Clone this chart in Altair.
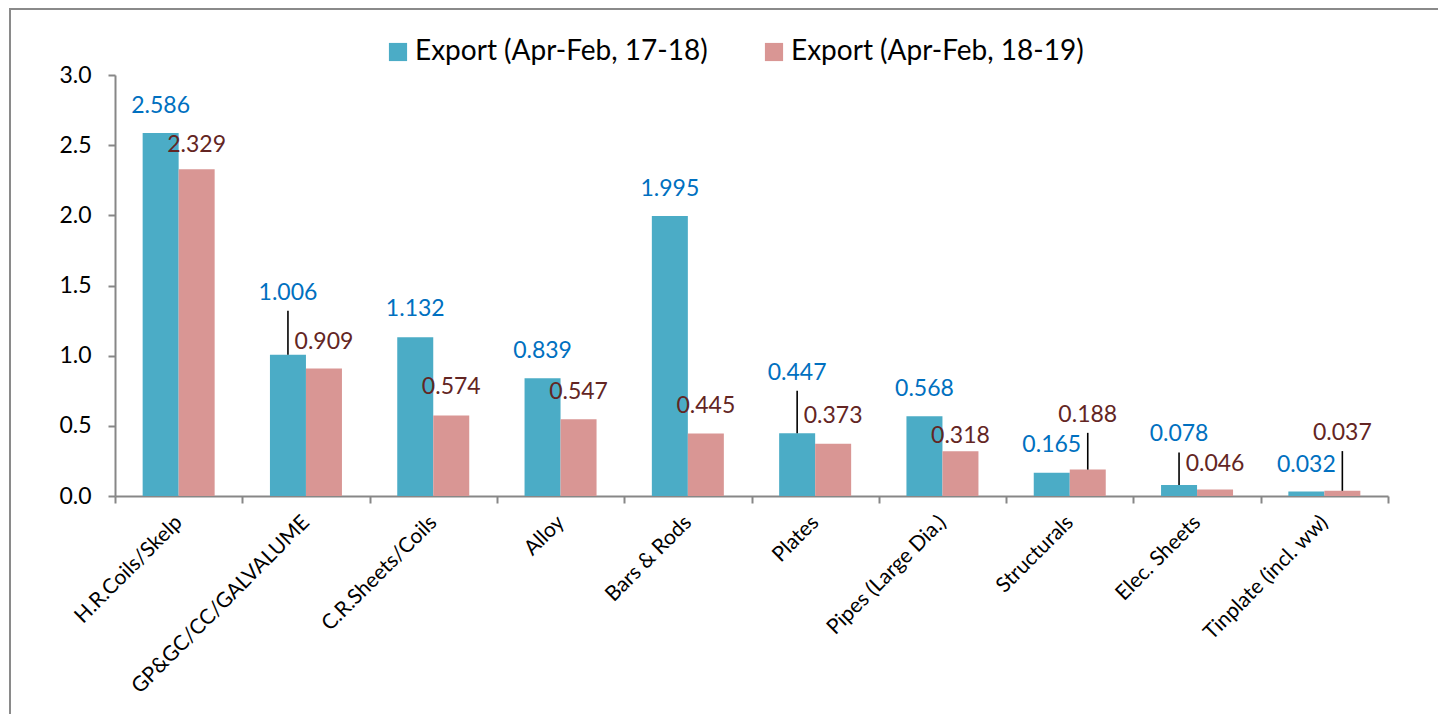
import altair as alt
import pandas as pd

categories = ["H.R.Coils/Skelp", "GP&GC/CC/GALVALUME", "C.R.Sheets/Coils", "Alloy",
              "Bars & Rods", "Plates", "Pipes (Large Dia.)", "Structurals",
              "Elec. Sheets", "Tinplate (incl. ww)"]
series_names = ["Export (Apr-Feb, 17-18)", "Export (Apr-Feb, 18-19)"]
export_1718 = [2.586, 1.006, 1.132, 0.839, 1.995, 0.447, 0.568, 0.165, 0.078, 0.032]
export_1819 = [2.329, 0.909, 0.574, 0.547, 0.445, 0.373, 0.318, 0.188, 0.046, 0.037]
# where each data label sits (value units), as placed in the original
label_at_1718 = [2.78, 1.45, 1.33, 1.03, 2.19, 0.88, 0.76, 0.36, 0.44, 0.22]
label_at_1819 = [2.50, 1.10, 0.78, 0.74, 0.64, 0.57, 0.43, 0.58, 0.23, 0.45]
leader_1718 = [False, True, False, False, False, True, False, False, True, False]
leader_1819 = [False, False, False, False, False, False, False, True, False, True]
y_ticks = [0.0, 0.5, 1.0, 1.5, 2.0, 2.5, 3.0]

rows = []
for i, c in enumerate(categories):
    rows.append(dict(cat=c, series=series_names[0], value=export_1718[i],
                     lab=label_at_1718[i], leader=leader_1718[i]))
    rows.append(dict(cat=c, series=series_names[1], value=export_1819[i],
                     lab=label_at_1819[i], leader=leader_1819[i]))
df = pd.DataFrame(rows)
df["lead_top"] = df["lab"] - 0.13
df["txt"] = df["value"].map(lambda v: f"{v:.3f}")

FONT = "Lato"
BLUE = "#4BACC6"
PINK = "#D99694"
AXIS_GRAY = "#878787"

W, H = 1273, 421
PAD_L, PAD_T = 107, 67
PAD_R = 1430 - PAD_L - W
PAD_B = 706 - PAD_T - H

x_axis = alt.Axis(title=None, labelAngle=-45, labelAlign="right",
                  labelBaseline="middle", tickBand="extent", grid=False,
                  gridOpacity=0, gridWidth=0,
                  tickSize=7, labelPadding=16, labelFontSize=21,
                  labelColor="black", domainColor=AXIS_GRAY,
                  tickColor=AXIS_GRAY, domainWidth=2, tickWidth=2,
                  labelFont=FONT, labelLimit=400)
y_axis = alt.Axis(title=None, values=y_ticks, format=".1f", grid=False,
                  gridOpacity=0, gridWidth=0,
                  tickSize=7, labelPadding=17, labelFontSize=23,
                  labelColor="black", domainColor=AXIS_GRAY,
                  tickColor=AXIS_GRAY, domainWidth=2, tickWidth=2,
                  labelFont=FONT)
x_scale = alt.Scale(domain=categories, paddingInner=0, paddingOuter=0)
xo_scale = alt.Scale(domain=series_names, paddingInner=0, paddingOuter=0.768)
y_scale = alt.Scale(domain=[0, 3], nice=False, zero=True)

def xe():
    return alt.X("cat:N", sort=categories, scale=x_scale, axis=x_axis)

def xoe():
    return alt.XOffset("series:N", sort=series_names, scale=xo_scale)

def ye(field):
    return alt.Y(f"{field}:Q", scale=y_scale, axis=y_axis)

base = alt.Chart(df)

bars = base.mark_bar().encode(
    x=xe(),
    xOffset=xoe(),
    y=ye("value"),
    color=alt.Color("series:N", sort=series_names,
                    scale=alt.Scale(domain=series_names, range=[BLUE, PINK]),
                    legend=alt.Legend(title=None, orient="none", direction="horizontal",
                                      legendX=269, legendY=-37, symbolType="square",
                                      symbolSize=330, symbolStrokeWidth=0,
                                      labelFontSize=28, labelFont=FONT,
                                      labelColor="black", labelOffset=3,
                                      columnPadding=52, labelLimit=500)),
)

leaders = base.transform_filter("datum.leader").mark_rule(
    color="black", strokeWidth=1.6).encode(
    x=xe(),
    xOffset=xoe(),
    y=ye("value"),
    y2="lead_top:Q",
)

def labels(name, colr):
    return base.transform_filter(alt.datum.series == name).mark_text(
        font=FONT, fontSize=23, color=colr, baseline="middle", align="center"
    ).encode(
        x=xe(),
        xOffset=xoe(),
        y=ye("lab"),
        text="txt:N",
    )

lab_a = labels(series_names[0], "#0070C0")
lab_b = labels(series_names[1], "#632523")

frame_df = pd.DataFrame({"k": [0]})
frame_top = alt.Chart(frame_df).mark_rule(color="#8a8a8a", strokeWidth=2).encode(
    x=alt.value(-PAD_L + 1), x2=alt.value(W + PAD_R), y=alt.value(-PAD_T + 1))
frame_left = alt.Chart(frame_df).mark_rule(color="#8a8a8a", strokeWidth=2).encode(
    x=alt.value(-PAD_L + 2), y=alt.value(-PAD_T + 1), y2=alt.value(H + PAD_B))

chart = alt.layer(bars, leaders, lab_a, lab_b, frame_top, frame_left).properties(
    width=W, height=H,
    autosize=alt.AutoSizeParams(type="none"),
    padding={"left": PAD_L, "top": PAD_T, "right": PAD_R, "bottom": PAD_B},
    background="white",
).configure(font=FONT, view=alt.ViewConfig(stroke=None, strokeWidth=0),
            axis=alt.AxisConfig(grid=False, gridOpacity=0))

chart.save("out.html", embed_options={"renderer": "svg", "actions": False})
